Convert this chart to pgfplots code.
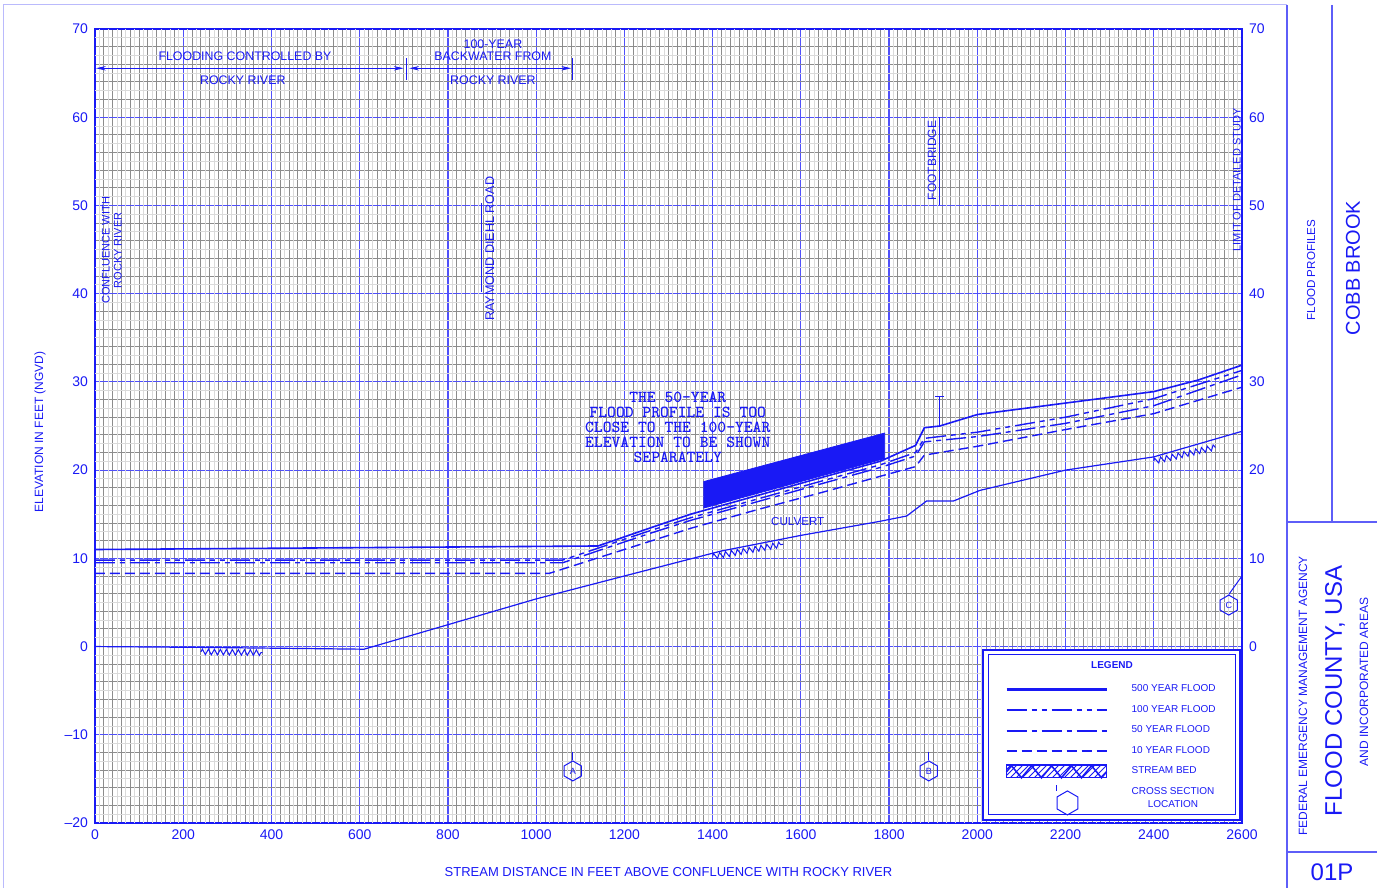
\documentclass[border=0pt]{standalone}
\usepackage{fontspec}
\setmainfont{Liberation Sans}
\usepackage{pgfplots}
\pgfplotsset{compat=1.18}
\usetikzlibrary{shapes.geometric,decorations.pathmorphing,arrows.meta,patterns}
\definecolor{fblue}{RGB}{25,25,245}
\definecolor{gblue}{RGB}{80,80,250}
\definecolor{gdark}{RGB}{140,140,140}
\definecolor{glight}{RGB}{218,218,218}
\newcommand{\fs}[1]{\fontsize{#1}{#1}\selectfont}
\begin{document}
\begin{tikzpicture}
\path[use as bounding box] (0,0) rectangle (688.5pt,444pt);
\begin{axis}[
  at={(47.5pt,32.5pt)}, anchor=south west,
  scale only axis, width=573.5pt, height=397pt,
  xmin=0, xmax=2600, ymin=-20, ymax=70,
  xtick={0,200,...,2600}, ytick={-20,-10,...,70},
  yticklabels={\textendash20,\textendash10,0,10,20,30,40,50,60,70},
  minor x tick num=9, minor y tick num=4,
  extra x ticks={10,30,...,2590}, extra y ticks={-19,-17,...,69},
  extra x tick labels={}, extra y tick labels={},
  extra tick style={grid=major, major grid style={glight, line width=0.45pt}},
  grid=both,
  major grid style={gblue, line width=0.6pt},
  minor grid style={gdark, line width=0.45pt},
  axis line style={fblue, line width=0.7pt},
  tick style={draw=none},
  ticklabel style={font=\fs{7}, text=fblue},
  /pgf/number format/assume math mode=true,
  /pgf/number format/set thousands separator={},
  xlabel={STREAM DISTANCE IN FEET ABOVE CONFLUENCE WITH ROCKY RIVER},
  ylabel={ELEVATION IN FEET (NGVD)},
  xlabel style={font=\fs{6.5}, text=fblue, at={(axis description cs:0.5,-0.0617)}, anchor=center},
  ylabel style={font=\fs{6}, text=fblue, at={(axis description cs:-0.048,0.4924)}, anchor=center},
  legend style={at={(axis description cs:0.7934,0.1800)}, anchor=north west, draw=none, fill=none,
    font=\fs{5}, text=fblue, inner sep=0pt, row sep=1.3pt,
    /tikz/every odd column/.append style={column sep=10pt}},
  legend cell align=left,
  legend image code/.code={\draw[#1, line width=1.1pt] (0pt,0pt) -- (50pt,0pt);},
]
% 500-year flood
\addplot[fblue, line width=0.8pt] coordinates {
 (0,11.0) (1140,11.4) (1250,13.3) (1350,15.0) (1500,17.1) (1650,19.2) (1780,21.0)
 (1860,22.8) (1880,24.8) (1915,25.0) (2000,26.3) (2200,27.6) (2400,28.9) (2500,30.2) (2600,31.9)};
\addlegendentry{500 YEAR FLOOD}
% 100-year flood
\addplot[fblue, line width=0.7pt, dash pattern=on 10pt off 2.5pt on 2.5pt off 2.5pt on 2.5pt off 2.5pt] coordinates {
 (0,9.8) (1060,9.8) (1250,13.0) (1350,14.6) (1500,16.7) (1650,18.8) (1780,20.6)
 (1860,22.0) (1880,23.6) (2000,24.3) (2200,26.0) (2400,28.1) (2600,31.3)};
\addlegendentry{100 YEAR FLOOD}
% 50-year flood
\addplot[fblue, line width=0.7pt, dash pattern=on 10pt off 2.5pt on 2.5pt off 2.5pt] coordinates {
 (0,9.5) (1060,9.5) (1250,12.7) (1350,14.3) (1500,16.4) (1650,18.5) (1780,20.3)
 (1860,21.6) (1880,23.2) (2000,23.8) (2200,25.3) (2400,27.3) (2600,30.8)};
\addlegendentry{50 YEAR FLOOD}
% 10-year flood
\addplot[fblue, line width=0.7pt, dash pattern=on 5pt off 2.5pt] coordinates {
 (0,8.3) (1030,8.3) (1250,11.8) (1350,13.4) (1500,15.5) (1650,17.5) (1780,19.3)
 (1860,20.4) (1880,21.7) (2000,22.7) (2200,24.6) (2400,26.4) (2600,29.4)};
\addlegendentry{10 YEAR FLOOD}
% stream bed
\addplot[fblue, line width=0.6pt,
  legend image code/.code={
    \fill[pattern=north east lines, pattern color=fblue] (0pt,-3pt) rectangle (50pt,3.5pt);
    \draw[fblue,line width=0.8pt,decorate,decoration={zigzag,amplitude=3pt,segment length=10pt}] (0pt,0pt)--(50pt,0pt);
    \draw[fblue,line width=0.8pt] (0pt,3.5pt)--(50pt,3.5pt);}] coordinates {
 (0,0) (250,-0.1) (610,-0.3) (1000,5.4) (1200,8.0) (1417,10.8) (1600,12.6) (1780,14.2)
 (1840,14.8) (1885,16.5) (1946,16.5) (2006,17.7) (2200,20.0) (2400,21.5) (2600,24.4)};
\addlegendentry{STREAM BED}
\addlegendimage{legend image code/.code={
  \node[regular polygon, regular polygon sides=6, shape border rotate=30, draw=fblue, line width=0.5pt, minimum size=12pt, inner sep=0pt] at (25pt,-2pt) {};
  \draw[fblue, line width=0.5pt] (25pt,4pt) -- (25pt,7pt);}}
\addlegendentry{\shortstack{CROSS SECTION\\LOCATION}}
% stream bed hatch symbols
\addplot[forget plot, fblue, line width=0.5pt, decorate, decoration={zigzag, amplitude=1.4pt, segment length=3pt}] coordinates {(240,-0.6) (380,-0.7)};
\addplot[forget plot, fblue, line width=0.5pt, decorate, decoration={zigzag, amplitude=1.4pt, segment length=3pt}] coordinates {(1400,10.2) (1560,11.6)};
\addplot[forget plot, fblue, line width=0.5pt, decorate, decoration={zigzag, amplitude=1.4pt, segment length=3pt}] coordinates {(2400,21.0) (2540,22.6)};
% 50-year band
\addplot[forget plot, fill=fblue, draw=fblue] coordinates {(1380,15.7) (1790,21.3) (1790,24.2) (1380,18.7)} -- cycle;
% footbridge
\draw[fblue, line width=0.5pt] (axis cs:1915,25.0) -- (axis cs:1915,28.3);
\draw[fblue, line width=0.5pt] (axis cs:1905,28.3) -- (axis cs:1925,28.3);
\draw[fblue, line width=0.5pt] (axis cs:1915,50.0) -- (axis cs:1915,60.0);
\node[rotate=90, font=\fs{6}, text=fblue, inner sep=0pt] at (axis cs:1897,55.1) {FOOTBRIDGE};
% road
\draw[fblue, line width=0.4pt] (axis cs:877,40.2) -- (axis cs:877,50.3);
\node[rotate=90, font=\fs{6.3}, text=fblue, inner sep=0pt] at (axis cs:895,45.1) {RAYMOND DIEHL ROAD};
% confluence
\node[rotate=90, align=center, font=\fontsize{5.5}{6}\selectfont, text=fblue, inner sep=0pt] at (axis cs:38,44.9) {CONFLUENCE WITH\\ROCKY RIVER};
% limit of study
\node[rotate=90, font=\fs{5.5}, text=fblue, inner sep=0pt] at (axis cs:2588,52.9) {LIMIT OF DETAILED STUDY};
% top annotations
\draw[fblue, line width=0.4pt, {Stealth[length=5pt,width=2.2pt]}-{Stealth[length=5pt,width=2.2pt]}] (axis cs:2,65.55) -- (axis cs:700,65.55);
\draw[fblue, line width=0.4pt, {Stealth[length=5pt,width=2.2pt]}-{Stealth[length=5pt,width=2.2pt]}] (axis cs:712,65.55) -- (axis cs:1080,65.55);
\draw[fblue, line width=0.5pt] (axis cs:705,64.2) -- (axis cs:705,66.7);
\draw[fblue, line width=0.5pt] (axis cs:1083,64.2) -- (axis cs:1083,66.7);
\node[font=\fs{6.2}, text=fblue, inner sep=0pt] at (axis cs:340,66.9) {FLOODING CONTROLLED BY};
\node[font=\fs{6.2}, text=fblue, inner sep=0pt] at (axis cs:335,64.2) {ROCKY RIVER};
\node[font=\fs{6.2}, text=fblue, inner sep=0pt] at (axis cs:902,68.3) {100-YEAR};
\node[font=\fs{6.2}, text=fblue, inner sep=0pt] at (axis cs:902,66.9) {BACKWATER FROM};
\node[font=\fs{6.2}, text=fblue, inner sep=0pt] at (axis cs:902,64.2) {ROCKY RIVER};
% note
\node[align=center, font=\ttfamily\bfseries\fontsize{8.4}{7.5}\selectfont, text=fblue, inner sep=0pt] at (axis cs:1321,24.9)
 {THE 50-YEAR\\FLOOD PROFILE IS TOO\\CLOSE TO THE 100-YEAR\\ELEVATION TO BE SHOWN\\SEPARATELY};
\node[font=\fs{5.8}, text=fblue, inner sep=0pt] at (axis cs:1593,14.2) {CULVERT};
% cross sections
\draw[fblue, line width=0.5pt] (axis cs:1083,-12.9) -- (axis cs:1083,-11.9);
\node[regular polygon, regular polygon sides=6, shape border rotate=30, draw=fblue, line width=0.5pt, minimum size=10pt, inner sep=0pt, font=\fs{4.5}, text=fblue] at (axis cs:1083,-14.1) {A};
\draw[fblue, line width=0.5pt] (axis cs:1890,-12.9) -- (axis cs:1890,-11.9);
\node[regular polygon, regular polygon sides=6, shape border rotate=30, draw=fblue, line width=0.5pt, minimum size=10pt, inner sep=0pt, font=\fs{4.5}, text=fblue] at (axis cs:1890,-14.1) {B};
\draw[fblue, line width=0.5pt] (axis cs:2570,5.9) -- (axis cs:2600,8.0);
\node[regular polygon, regular polygon sides=6, shape border rotate=30, draw=fblue, line width=0.5pt, minimum size=10pt, inner sep=0pt, font=\fs{4.5}, text=fblue] at (axis cs:2570,4.7) {C};
% legend frame
\draw[fblue, fill=white, line width=0.7pt] (rel axis cs:0.7742,0.0038) rectangle (rel axis cs:0.9983,0.2179);
\draw[fblue, line width=0.5pt] (rel axis cs:0.7786,0.0101) rectangle (rel axis cs:0.9939,0.2116);
\node[font=\bfseries\fs{5}, text=fblue] at (rel axis cs:0.8867,0.199) {LEGEND};
\end{axis}
% right-hand tick labels
\begin{axis}[
  at={(47.5pt,32.5pt)}, anchor=south west,
  scale only axis, width=573.5pt, height=397pt,
  xmin=0, xmax=2600, ymin=-20, ymax=70,
  axis y line*=right, hide x axis,
  ytick={0,10,...,70},
  tick style={draw=none},
  axis line style={fblue, line width=0.7pt},
  yticklabel style={font=\fs{7}, text=fblue},
  /pgf/number format/assume math mode=true,
]
\addplot[draw=none] coordinates {(0,0)};
\end{axis}
% title block (pixel-like units)
\begin{scope}[shift={(0pt,444pt)}, x=0.5pt, y=-0.5pt]
\draw[fblue!30, line width=0.5pt] (3,5) -- (1287,5);
\draw[fblue!30, line width=0.5pt] (3,5) -- (3,888);
\draw[fblue!70, line width=0.9pt] (1287,5) -- (1287,888);
\draw[fblue!70, line width=0.9pt] (1332,5) -- (1332,522);
\draw[fblue!70, line width=0.9pt] (1287,522) -- (1377,522);
\draw[fblue!70, line width=0.9pt] (1287,852) -- (1377,852);
\node[rotate=90, font=\fs{5.8}, text=fblue] at (1311,270) {FLOOD PROFILES};
\node[rotate=90, font=\fs{10}, text=fblue] at (1353,268) {COBB BROOK};
\node[rotate=90, font=\fs{6}, text=fblue] at (1303,696) {FEDERAL EMERGENCY MANAGEMENT AGENCY};
\node[rotate=90, font=\fs{12}, text=fblue] at (1335,691) {FLOOD COUNTY, USA};
\node[rotate=90, font=\fs{6}, text=fblue] at (1364,682) {AND INCORPORATED AREAS};
\node[font=\fs{12}, text=fblue] at (1332,872) {01P};
\end{scope}
\end{tikzpicture}
\end{document}
